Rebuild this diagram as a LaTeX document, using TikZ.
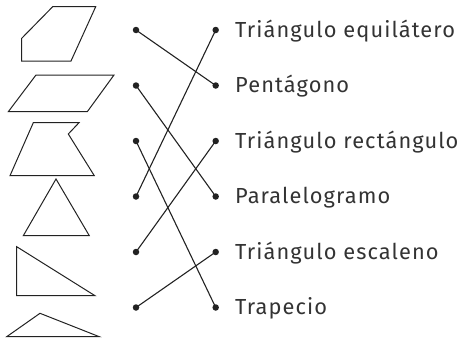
\documentclass[tikz,border=0pt]{standalone}
\usepackage{fontspec}
\setmainfont{Fira Sans}[LetterSpace=5]
\definecolor{ink}{HTML}{222222}
\definecolor{txt}{HTML}{333333}
\tikzset{
  outl/.style={draw=ink, line width=1pt, line join=miter},
  conn/.style={draw=ink, line width=1.1pt},
  dotnode/.style={circle, fill=ink, inner sep=0pt, minimum size=6.5pt},
  lbl/.style={anchor=base west, inner sep=0pt, text=txt, font=\fontsize{21.8}{26}\selectfont},
}
\begin{document}
\begin{tikzpicture}[x=1pt,y=-1pt]
\useasboundingbox (0,0) rectangle (468,340);
% shapes
\draw[outl] (21.7,38.3) -- (52.7,6.7) -- (95.7,6.7) -- (71,61) -- (21.7,61) -- cycle;
\draw[outl] (36,75) -- (114,75) -- (87.3,111.7) -- (8.3,111.7) -- cycle;
\draw[outl] (33.3,122.7) -- (79,122.7) -- (68.3,134) -- (94.3,175.7) -- (10,175.7) -- cycle;
\draw[outl] (56,179) -- (89.3,235.7) -- (23.3,235.7) -- cycle;
\draw[outl] (16.7,246.7) -- (95,295.7) -- (16.7,295.7) -- cycle;
\draw[outl] (40,313.3) -- (99.3,336.7) -- (6.7,336.7) -- cycle;
% dots
\foreach \i/\y in {1/30,2/85.5,3/141,4/196.5,5/252,6/307.5}{
  \node[dotnode] (L\i) at (136,\y) {};
  \node[dotnode] (R\i) at (215.7,\y) {};
}
% labels
\node[lbl] (t1) at (235,37) {Triángulo equilátero};
\node[lbl] (t2) at (235,92.5) {Pentágono};
\node[lbl] (t3) at (235,148) {Triángulo rectángulo};
\node[lbl] (t4) at (235,203.5) {Paralelogramo};
\node[lbl] (t5) at (235,259) {Triángulo escaleno};
\node[lbl] (t6) at (235,314.5) {Trapecio};
% connectors
\draw[conn] (L1.center) -- (R2.center);
\draw[conn] (L2.center) -- (R4.center);
\draw[conn] (L3.center) -- (R6.center);
\draw[conn] (L4.center) -- (R1.center);
\draw[conn] (L5.center) -- (R3.center);
\draw[conn] (L6.center) -- (R5.center);
\end{tikzpicture}
\end{document}
